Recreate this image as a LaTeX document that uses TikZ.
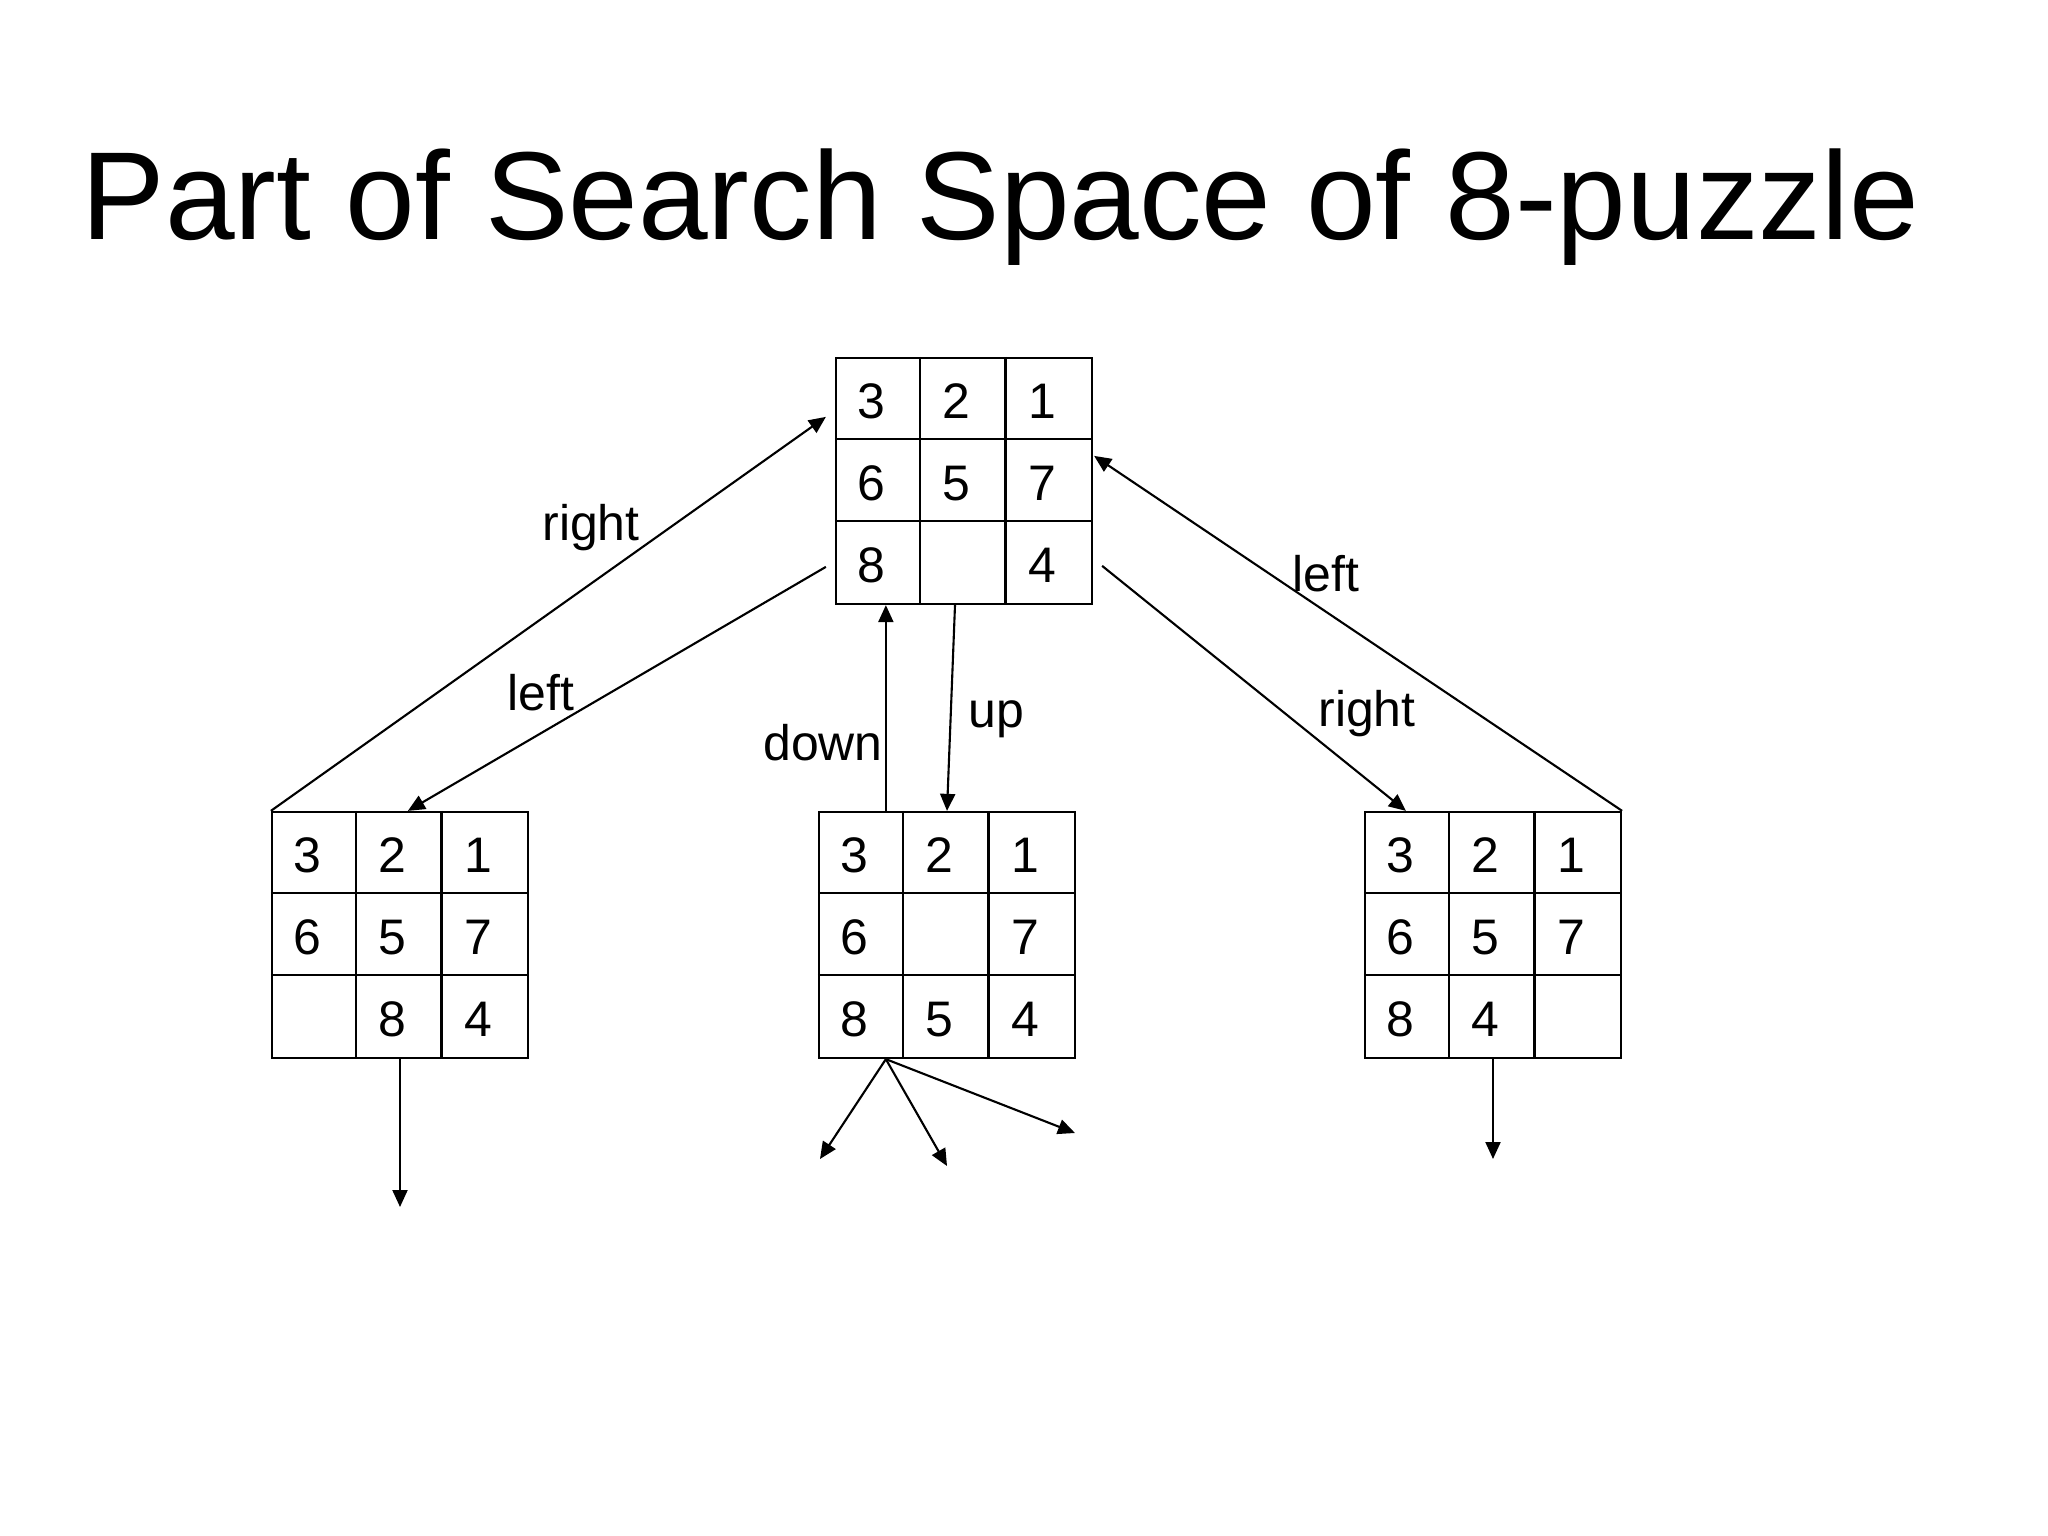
\documentclass[tikz,border=0pt]{standalone}
\usepackage{fontspec}
\setmainfont{Liberation Sans}
\usetikzlibrary{arrows.meta}

\tikzset{
	board/.style={draw, rectangle, minimum width=2.56cm, minimum height=2.46cm, inner sep=0pt, line width=0.6pt},
	tile/.style={anchor=base west, inner sep=0pt, font=\fontsize{14.2}{17}\selectfont},
	lbl/.style={anchor=base, inner sep=0pt, font=\fontsize{14.2}{17}\selectfont},
	move/.style={-{Triangle[length=0.17cm,width=0.15cm]}, line width=0.6pt}
}

% one board: name, centre x, centre y, rows a/b/c
\newcommand{\board}[4]{%
	\node[board] (#1) at (#2,#3) {};
	\foreach \k in {1,2} {
		\draw[line width=0.6pt] ([shift={(\k*85.33,0)}]#1.north west) -- ([shift={(\k*85.33,0)}]#1.south west);
		\draw[line width=0.6pt] ([shift={(0,\k*82)}]#1.north west) -- ([shift={(0,\k*82)}]#1.north east);
	}
	\foreach \a/\b/\c [count=\r from 0] in {#4} {
		\node[tile] (#1-\r-a) at ([shift={(22,\r*82+62)}]#1.north west) {\a};
		\node[tile] (#1-\r-b) at ([shift={(107.33,\r*82+62)}]#1.north west) {\b};
		\node[tile] (#1-\r-c) at ([shift={(192.67,\r*82+62)}]#1.north west) {\c};
	}
}

\begin{document}
\begin{tikzpicture}[x=0.01cm, y=-0.01cm]
	
	\path[fill=white, use as bounding box] (0,0) rectangle (2048,1536);
	
	% Title
	\node[anchor=base west, inner sep=0pt, font=\fontsize{35.6}{40}\selectfont] (title) at (81,239) {Part of Search Space of 8-puzzle};
	
	% Boards
	\board{T}{964}{481}{3/2/1, 6/5/7, 8/{}/4}
	\board{L}{400}{935}{3/2/1, 6/5/7, {}/8/4}
	\board{M}{947}{935}{3/2/1, 6/{}/7, 8/5/4}
	\board{R}{1493}{935}{3/2/1, 6/5/7, 8/4/{}}
	
	% Loose ends
	\coordinate (Ldown) at (400,1207);
	\coordinate (Mleft) at (820,1159);
	\coordinate (Mmid) at (947,1166);
	\coordinate (Mright) at (1075,1133);
	\coordinate (Rdown) at (1493,1159);
	
	% Moves
	\draw[move] (L.north west) -- ([shift={(-9,60)}]T.north west);
	\draw[move] ([shift={(-9,210)}]T.north west) -- ([shift={(137,0)}]L.north west);
	\draw[move] ([shift={(68,0)}]M.north west) -- ([shift={(51,0)}]T.south west);
	\draw[move] ([shift={(-9,0)}]T.south) -- (M.north);
	\draw[move] ([shift={(9,209)}]T.north east) -- ([shift={(42,0)}]R.north west);
	\draw[move] (R.north east) -- ([shift={(1,99)}]T.north east);
	
	\draw[move] (L.south) -- (Ldown);
	\draw[move] ([shift={(68,0)}]M.south west) -- (Mleft);
	\draw[move] ([shift={(68,0)}]M.south west) -- (Mmid);
	\draw[move] ([shift={(68,0)}]M.south west) -- (Mright);
	\draw[move] (R.south) -- (Rdown);
	
	% Labels
	\node[lbl] (lright) at (591,540) {right};
	\node[lbl] (lleft) at (541,710) {left};
	\node[lbl] (ldown) at (823,760) {down};
	\node[lbl] (lup) at (996,727) {up};
	\node[lbl] (rright) at (1367,726) {right};
	\node[lbl] (rleft) at (1326,591) {left};
\end{tikzpicture}
\end{document}
